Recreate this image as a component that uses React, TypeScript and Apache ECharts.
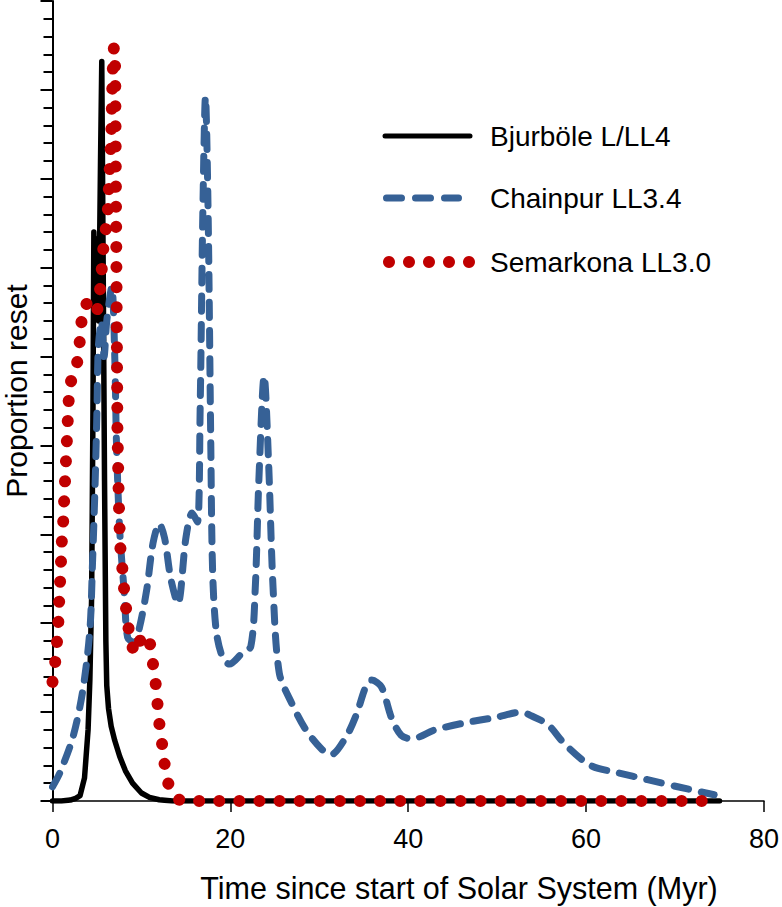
import React, { useEffect, useRef } from "react";
import * as echarts from "echarts";

const seriesNames = ["Bjurböle L/LL4", "Chainpur LL3.4", "Semarkona LL3.0"];
const seriesColors = ["#000000", "#366196", "#c00000"];

const xTicks = [0, 20, 40, 60, 80];

// Bjurböle L/LL4 (x: Myr, y: proportion reset, arbitrary units)
const bjurbole: [number, number][] = [
  [0, 0], [1, 0], [2, 0.05], [2.6, 0.15], [3.1, 0.3], [3.6, 1.3], [4.0, 4.0],
  [4.2, 6.8], [4.4, 11.5], [4.55, 22], [4.65, 32], [4.8, 28], [5.0, 31.6],
  [5.2, 27], [5.4, 36], [5.54, 41.6], [5.7, 30], [5.85, 18], [6.0, 9],
  [6.1, 6.5], [6.3, 5.2], [6.6, 4.2], [7.0, 3.4], [7.56, 2.5], [8.2, 1.7],
  [9.0, 1.0], [10.0, 0.45], [10.9, 0.2], [12.0, 0.07], [13.5, 0], [20, 0],
  [40, 0], [60, 0], [75, 0],
];

// Chainpur LL3.4
const chainpur: [number, number][] = [
  [0, 0.8], [0.84, 1.6], [2.3, 3.6], [3.4, 6.2], [4.2, 9.6], [4.5, 13.4],
  [4.8, 18], [5.0, 22], [5.15, 25.5], [5.5, 27], [5.8, 25], [6.1, 27],
  [6.66, 28.9], [7.0, 25], [7.2, 20], [7.56, 15.2], [8.1, 11.5], [8.45, 9.2],
  [9.2, 8.9], [9.8, 9.8], [10.6, 11.9], [11.3, 14.5], [12.0, 15.6],
  [12.6, 14.8], [13.3, 12.5], [14.1, 11.1], [15.0, 14.8], [15.7, 16.2],
  [16.3, 15.7], [16.6, 22], [16.9, 33], [17.2, 39.6], [17.5, 33], [17.8, 20],
  [18.0, 13], [18.4, 9.6], [19.1, 8.1], [19.9, 7.7], [21.3, 8.3], [22.3, 8.7],
  [22.8, 12], [23.2, 18], [23.8, 23.9], [24.3, 19], [24.8, 12], [25.5, 7.2],
  [26.9, 5.5], [28.5, 4.0], [30.3, 2.9], [31.3, 2.6], [33.0, 3.6], [34.2, 4.9],
  [35.2, 6.4], [35.9, 6.8], [37.0, 6.4], [38.1, 4.7], [39.2, 3.7], [40.4, 3.5],
  [43.0, 4.0], [46.4, 4.4], [49.8, 4.7], [52.7, 5.0], [53.8, 4.8], [55.7, 4.3],
  [57.6, 3.2], [60.5, 2.0], [63.5, 1.6], [66.9, 1.2], [70.3, 0.8], [74.4, 0.35],
];

// Semarkona LL3.0
const semarkona: [number, number][] = [
  [0, 6.7], [0.3, 7.8], [0.5, 8.9], [0.65, 10], [0.75, 11.2], [0.85, 12.3],
  [0.95, 13.4], [1.05, 14.6], [1.2, 15.7], [1.3, 16.8], [1.4, 17.9],
  [1.5, 19], [1.6, 20.1], [1.7, 21.2], [1.8, 22.4], [2.0, 23.5], [2.7, 24.4],
  [3.0, 25.5], [3.2, 26.6], [3.4, 27.8], [4.2, 28.1], [5.0, 27.5],
  [5.3, 28.5], [5.5, 29.6], [5.65, 30.8], [5.9, 31.8], [6.2, 33],
  [6.3, 34], [6.4, 35.2], [6.5, 36.3], [6.6, 37.4], [6.65, 38.5],
  [6.7, 39.6], [6.75, 40.8], [6.9, 42.4], [7.05, 41.2], [7.1, 37],
  [7.15, 33], [7.2, 29], [7.25, 25], [7.3, 21], [7.45, 17], [7.6, 14.4],
  [7.8, 13.4], [8.0, 12.2], [8.2, 11.1], [8.5, 10], [8.7, 8.9], [9.4, 8.3],
  [10.1, 9.4], [11.0, 8.8], [11.3, 7.7], [11.6, 6.6], [11.8, 5.5],
  [12.0, 4.4], [12.3, 3.3], [12.6, 2.1], [13.0, 1.0], [14.0, 0.1],
  [15, 0], [30, 0], [50, 0], [73.5, 0],
];

const FONT = "'Liberation Sans', Arial, Helvetica, sans-serif";

function legendGraphics() {
  const x0 = 383;
  const rows = [136, 198, 262];
  const textX = 490;
  const els: any[] = [];
  // solid black
  els.push({
    type: "line",
    shape: { x1: x0 + 2, y1: rows[0], x2: 470, y2: rows[0] },
    style: { stroke: seriesColors[0], lineWidth: 5, lineCap: "round" },
  });
  // dashed blue
  els.push({
    type: "line",
    shape: { x1: x0 + 3.5, y1: rows[1], x2: 458.5, y2: rows[1] },
    style: { stroke: seriesColors[1], lineWidth: 7, lineCap: "round", lineDash: [15, 14] },
  });
  // dotted red
  for (let i = 0; i < 5; i++) {
    els.push({
      type: "circle",
      shape: { cx: 389 + i * 20, cy: rows[2], r: 6 },
      style: { fill: seriesColors[2] },
    });
  }
  seriesNames.forEach((name, i) => {
    els.push({
      type: "text",
      x: textX,
      y: rows[i],
      style: {
        text: name,
        fontSize: 28,
        fontFamily: FONT,
        fill: "#000",
        align: "left",
        verticalAlign: "middle",
      },
    });
  });
  return els;
}

export default function App() {
  const ref = useRef<HTMLDivElement>(null);

  useEffect(() => {
    if (!ref.current) return;
    const chart = echarts.init(ref.current, undefined, { renderer: "svg" });
    chart.setOption({
      animation: false,
      backgroundColor: "#ffffff",
      textStyle: { fontFamily: FONT },
      grid: { left: 52.5, right: 16, top: 1, bottom: 106, containLabel: false },
      xAxis: {
        type: "value",
        min: xTicks[0],
        max: xTicks[xTicks.length - 1],
        interval: 20,
        axisLine: { show: true, onZero: false, lineStyle: { color: "#000", width: 1.5 } },
        axisTick: { show: true, length: 11, lineStyle: { color: "#000", width: 1.5 } },
        axisLabel: { fontSize: 27, color: "#000", margin: 24, fontFamily: FONT },
        splitLine: { show: false },
      },
      yAxis: {
        type: "value",
        min: 0,
        max: 45,
        interval: 5,
        axisLine: { show: true, lineStyle: { color: "#000", width: 2 } },
        axisTick: { show: true, length: 12, lineStyle: { color: "#000", width: 2 } },
        minorTick: { show: true, splitNumber: 5, length: 9, lineStyle: { color: "#000", width: 2 } },
        axisLabel: { show: false },
        splitLine: { show: false },
      },
      graphic: [
        {
          type: "text",
          x: 459,
          y: 888,
          style: {
            text: "Time since start of Solar System (Myr)",
            fontSize: 30.5,
            fontFamily: FONT,
            fill: "#000",
            align: "center",
            verticalAlign: "middle",
          },
        },
        {
          type: "text",
          x: 1,
          y: 391,
          rotation: Math.PI / 2,
          style: {
            text: "Proportion reset",
            fontSize: 30,
            fontFamily: FONT,
            fill: "#000",
            align: "center",
            verticalAlign: "top",
          },
        },
        ...legendGraphics(),
      ],
      series: [
        {
          name: seriesNames[0],
          type: "line",
          data: bjurbole,
          showSymbol: false,
          symbol: "none",
          z: 2,
          lineStyle: { color: seriesColors[0], width: 5.5, cap: "round", join: "round" },
          itemStyle: { color: seriesColors[0] },
        },
        {
          name: seriesNames[1],
          type: "line",
          data: chainpur,
          showSymbol: false,
          symbol: "none",
          smooth: 0.3,
          z: 3,
          lineStyle: { color: seriesColors[1], width: 7, type: [15, 13], cap: "round", join: "round" },
          itemStyle: { color: seriesColors[1] },
        },
        {
          name: seriesNames[2],
          type: "line",
          data: semarkona,
          showSymbol: false,
          symbol: "none",
          z: 4,
          lineStyle: { color: seriesColors[2], width: 12, type: [0.1, 20], cap: "round", join: "round" },
          itemStyle: { color: seriesColors[2] },
        },
      ],
    });
    return () => chart.dispose();
  }, []);

  return (
    <div
      ref={ref}
      style={{ position: "fixed", left: 0, top: 0, width: 782, height: 907, background: "#fff" }}
    />
  );
}
